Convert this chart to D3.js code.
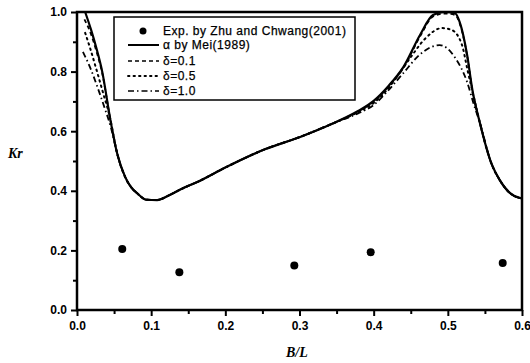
<!DOCTYPE html>
<html>
<head>
<meta charset="utf-8">
<script src="https://cdn.jsdelivr.net/npm/d3@7"></script>
<style>
html,body{margin:0;padding:0;background:#fff;}
svg{display:block;}
</style>
</head>
<body>
<svg id="chart" width="530" height="363"></svg>
<script>
// ---- data ----
const xTicks = [0.0, 0.1, 0.2, 0.3, 0.4, 0.5, 0.6];
const yTicks = [0.0, 0.2, 0.4, 0.6, 0.8, 1.0];
const xTickLabels = ["0.0", "0.1", "0.2", "0.3", "0.4", "0.5", "0.6"];
const yTickLabels = ["0.0", "0.2", "0.4", "0.6", "0.8", "1.0"];

const expX = [0.061, 0.138, 0.293, 0.396, 0.574];
const expY = [0.205, 0.127, 0.149, 0.194, 0.158];

const meiX = [0.011, 0.019, 0.026, 0.034, 0.0445, 0.054, 0.065, 0.073, 0.081, 0.094, 0.108, 0.125, 0.140, 0.166, 0.200, 0.254, 0.300, 0.344, 0.379, 0.400, 0.420, 0.440, 0.4625, 0.480, 0.495, 0.510, 0.516, 0.526, 0.533, 0.543, 0.559, 0.570, 0.584, 0.597, 0.600];
const meiY = [1.000, 0.940, 0.880, 0.800, 0.645, 0.527, 0.446, 0.412, 0.392, 0.370, 0.369, 0.386, 0.405, 0.434, 0.478, 0.540, 0.580, 0.625, 0.668, 0.702, 0.752, 0.815, 0.923, 0.990, 1.000, 0.995, 0.966, 0.856, 0.740, 0.630, 0.490, 0.436, 0.392, 0.376, 0.375];

const d01X = [0.010, 0.019, 0.026, 0.034, 0.0445, 0.054, 0.065, 0.073, 0.081, 0.094, 0.108, 0.125, 0.140, 0.166, 0.200, 0.254, 0.300, 0.344, 0.379, 0.400, 0.420, 0.440, 0.4625, 0.480, 0.495, 0.510, 0.516, 0.526, 0.533, 0.543, 0.559, 0.570, 0.584, 0.597, 0.600];
const d01Y = [0.975, 0.925, 0.870, 0.795, 0.645, 0.527, 0.446, 0.412, 0.392, 0.370, 0.369, 0.386, 0.405, 0.434, 0.478, 0.540, 0.580, 0.625, 0.666, 0.699, 0.749, 0.812, 0.918, 0.985, 0.995, 0.990, 0.962, 0.853, 0.738, 0.630, 0.490, 0.436, 0.392, 0.376, 0.375];

const d05X = [0.011, 0.0175, 0.027, 0.035, 0.0445, 0.054, 0.065, 0.073, 0.081, 0.094, 0.108, 0.125, 0.140, 0.166, 0.200, 0.254, 0.300, 0.344, 0.379, 0.400, 0.420, 0.4355, 0.449, 0.470, 0.492, 0.505, 0.519, 0.527, 0.535, 0.543, 0.559, 0.570, 0.584, 0.597, 0.600];
const d05Y = [0.930, 0.880, 0.800, 0.730, 0.645, 0.527, 0.446, 0.412, 0.392, 0.370, 0.369, 0.386, 0.405, 0.434, 0.478, 0.540, 0.580, 0.625, 0.664, 0.695, 0.745, 0.798, 0.845, 0.912, 0.946, 0.940, 0.890, 0.800, 0.715, 0.630, 0.490, 0.436, 0.392, 0.376, 0.375];

const d10X = [0.008, 0.0175, 0.028, 0.037, 0.046, 0.054, 0.065, 0.073, 0.081, 0.094, 0.108, 0.125, 0.140, 0.166, 0.200, 0.254, 0.300, 0.344, 0.379, 0.400, 0.419, 0.440, 0.4625, 0.489, 0.510, 0.526, 0.535, 0.543, 0.559, 0.570, 0.584, 0.597, 0.600];
const d10Y = [0.866, 0.815, 0.745, 0.680, 0.610, 0.527, 0.446, 0.412, 0.392, 0.370, 0.369, 0.386, 0.405, 0.434, 0.478, 0.540, 0.580, 0.625, 0.660, 0.688, 0.735, 0.795, 0.858, 0.889, 0.846, 0.765, 0.690, 0.630, 0.490, 0.436, 0.392, 0.376, 0.375];

const legendLabels = ["Exp. by Zhu and Chwang(2001)", "\u03b1 by Mei(1989)", "\u03b4=0.1", "\u03b4=0.5", "\u03b4=1.0"];

// ---- layout ----
const svg = d3.select("#chart");
const L = 77, R = 522, T = 12, B = 310;
const x = d3.scaleLinear().domain([0, 0.6]).range([L, R]);
const y = d3.scaleLinear().domain([0, 1]).range([B, T]);

const tickFont = "'Liberation Sans', Arial, sans-serif";

const xMinor = d3.range(0.05, 0.6, 0.1);
const yMinor = d3.range(0.1, 1.0, 0.2);

// x axis
const xAxis = d3.axisBottom(x).tickValues(xTicks).tickFormat((d, i) => xTickLabels[i]).tickSizeInner(6).tickSizeOuter(0).tickPadding(5);
const gx = svg.append("g").attr("transform", `translate(0,${B})`).call(xAxis);
gx.selectAll(".tick line").attr("stroke", "#000").attr("stroke-width", 2);
gx.selectAll(".tick text").attr("font-family", tickFont).attr("font-size", 12).attr("font-weight", "bold").attr("fill", "#000");
gx.select(".domain").remove();
const gxm = svg.append("g").attr("transform", `translate(0,${B})`).call(d3.axisBottom(x).tickValues(xMinor).tickSize(4).tickFormat(""));
gxm.select(".domain").remove();
gxm.selectAll(".tick line").attr("stroke", "#000").attr("stroke-width", 2);

// y axis
const yAxis = d3.axisLeft(y).tickValues(yTicks).tickFormat((d, i) => yTickLabels[i]).tickSizeInner(6).tickSizeOuter(0).tickPadding(4);
const gy = svg.append("g").attr("transform", `translate(${L},0)`).call(yAxis);
gy.selectAll(".tick line").attr("stroke", "#000").attr("stroke-width", 2);
gy.selectAll(".tick text").attr("font-family", tickFont).attr("font-size", 12).attr("font-weight", "bold").attr("fill", "#000");
gy.select(".domain").remove();
const gym = svg.append("g").attr("transform", `translate(${L},0)`).call(d3.axisLeft(y).tickValues(yMinor).tickSize(4).tickFormat(""));
gym.select(".domain").remove();
gym.selectAll(".tick line").attr("stroke", "#000").attr("stroke-width", 2);

// frame
svg.append("rect").attr("x", L).attr("y", T).attr("width", R - L).attr("height", B - T)
  .attr("fill", "none").attr("stroke", "#000").attr("stroke-width", 2.5);

svg.append("clipPath").attr("id", "clip").append("rect").attr("x", L).attr("y", T - 1).attr("width", R - L).attr("height", B - T + 1);

const line = d3.line().x(d => x(d[0])).y(d => y(d[1])).curve(d3.curveMonotoneX);
const zip = (a, b) => a.map((v, i) => [v, b[i]]);

const DOT = "1.5,4";
const series = [
  {xs: meiX, ys: meiY, dash: null, w: 2.2},
  {xs: d01X, ys: d01Y, dash: "4,3", w: 1.8},
  {xs: d05X, ys: d05Y, dash: DOT, w: 2},
  {xs: d10X, ys: d10Y, dash: "6,3,1.5,3", w: 1.8}
];
const plot = svg.append("g").attr("clip-path", "url(#clip)");
series.forEach(s => {
  plot.append("path").datum(zip(s.xs, s.ys)).attr("d", line)
    .attr("fill", "none").attr("stroke", "#000").attr("stroke-width", s.w)
    .attr("stroke-dasharray", s.dash).attr("stroke-linecap", s.dash === DOT ? "round" : "butt");
});

// experimental points
svg.append("g").selectAll("circle").data(zip(expX, expY)).join("circle")
  .attr("cx", d => x(d[0])).attr("cy", d => y(d[1])).attr("r", 4).attr("fill", "#000");

// legend
const lg = svg.append("g");
lg.append("rect").attr("x", 114).attr("y", 17).attr("width", 241).attr("height", 83)
  .attr("fill", "#fff").attr("stroke", "#000").attr("stroke-width", 1.5);
const rows = [31, 45, 61, 76, 91];
const styles = [null, {dash: null, w: 2}, {dash: "4,3", w: 1.6}, {dash: DOT, w: 1.8}, {dash: "6,3,1.5,3", w: 1.6}];
legendLabels.forEach((t, i) => {
  const cy = rows[i];
  if (i === 0) {
    lg.append("circle").attr("cx", 143).attr("cy", cy).attr("r", 3.5).attr("fill", "#000");
  } else {
    lg.append("line").attr("x1", 128).attr("x2", 159).attr("y1", cy).attr("y2", cy)
      .attr("stroke", "#000").attr("stroke-width", styles[i].w).attr("stroke-dasharray", styles[i].dash)
      .attr("stroke-linecap", i === 3 ? "round" : "butt");
  }
  lg.append("text").attr("x", 163).attr("y", cy + 4).text(t)
    .attr("font-family", tickFont).attr("font-size", 12).attr("letter-spacing", 0.5)
    .attr("fill", "#000").attr("stroke", "#000").attr("stroke-width", 0.25);
});

// axis titles
svg.append("text").attr("x", 8).attr("y", 158).text("Kr")
  .attr("font-family", "'Liberation Serif', 'Times New Roman', serif").attr("font-size", 14)
  .attr("font-style", "italic").attr("font-weight", "bold");
svg.append("text").attr("x", 286).attr("y", 357).text("B/L")
  .attr("font-family", "'Liberation Serif', 'Times New Roman', serif").attr("font-size", 14)
  .attr("font-style", "italic").attr("font-weight", "bold");
</script>
</body>
</html>
